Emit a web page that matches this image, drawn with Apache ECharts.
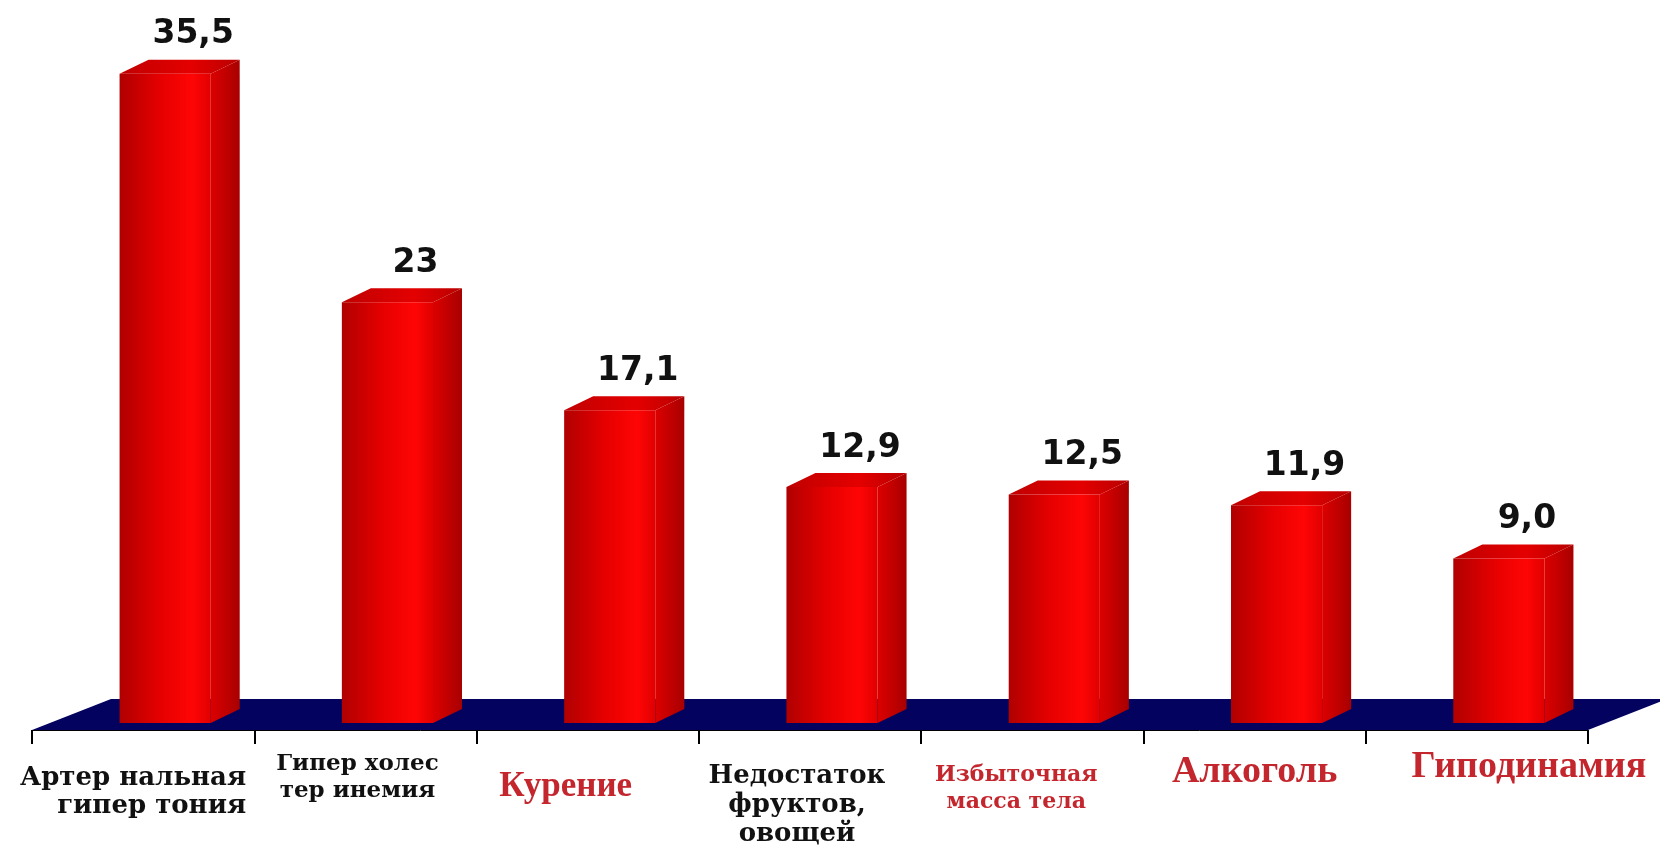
<!DOCTYPE html>
<html>
<head>
<meta charset="utf-8">
<script src="https://cdn.jsdelivr.net/npm/echarts@6/dist/echarts.min.js"></script>
<style>
html,body{margin:0;padding:0;background:#fff;}
#chart{width:1660px;height:851px;}
</style>
</head>
<body>
<div id="chart"></div>
<script>
// ---- data ----
var categories = [
  'Артер нальная\nгипер тония',
  'Гипер холес\nтер инемия',
  'Курение',
  'Недостаток\nфруктов,\nовощей',
  'Избыточная\nмасса тела',
  'Алкоголь',
  'Гиподинамия'
];
var values = [35.5, 23, 17.1, 12.9, 12.5, 11.9, 9.0];
var valueLabels = ['35,5', '23', '17,1', '12,9', '12,5', '11,9', '9,0'];

// ---- label styling (not data) ----
var RED = '#c4262e';
var labelStyle = [
  {font: 'DejaVu Serif', size: 26, lh: 28, color: '#111', dx: 103, top: 764, align: 'right'},
  {font: 'DejaVu Serif', size: 23, lh: 27, color: '#111', dx: -8, top: 751, align: 'center'},
  {font: 'Liberation Serif', size: 35, lh: 38, color: RED, dx: -22, top: 768, align: 'center'},
  {font: 'DejaVu Serif', size: 26, lh: 29, color: '#111', dx: -13, top: 762, align: 'center'},
  {font: 'DejaVu Serif', size: 22, lh: 27, color: RED, dx: -16, top: 762, align: 'center'},
  {font: 'Liberation Serif', size: 38, lh: 40, color: RED, dx: 0, top: 752, align: 'center'},
  {font: 'Liberation Serif', size: 38, lh: 40, color: RED, dx: 52, top: 747, align: 'center'}
];

var chart = echarts.init(document.getElementById('chart'), null, {renderer: 'canvas'});

var DEPTH = [29, -14];      // bar depth vector
var FLOOR = [79, -31];      // floor depth vector
var BAR_OFF = [22, -7];     // bar placement inside the floor

var option = {
  backgroundColor: '#ffffff',
  animation: false,
  grid: {left: 32, right: 72, top: 35, bottom: 121, containLabel: false},
  xAxis: {
    type: 'category',
    data: categories,
    boundaryGap: true,
    axisLine: {show: true, lineStyle: {color: '#000', width: 1}},
    axisTick: {show: true, length: 14, lineStyle: {color: '#000', width: 2}},
    axisLabel: {show: false},
    splitLine: {show: false}
  },
  yAxis: {type: 'value', min: 0, max: 38, show: false},
  series: [
    {
      type: 'custom',
      name: 'floor',
      silent: true,
      z: 1,
      data: [[0, 0]],
      encode: {x: 0, y: 1},
      renderItem: function (params, api) {
        var cs = params.coordSys;
        var y0 = api.coord([0, 0])[1];
        var x0 = cs.x, x1 = cs.x + cs.width;
        return {
          type: 'polygon',
          shape: {points: [[x0, y0], [x0 + FLOOR[0], y0 + FLOOR[1]], [x1 + FLOOR[0], y0 + FLOOR[1]], [x1, y0]]},
          style: {fill: '#03035f'}
        };
      }
    },
    {
      type: 'custom',
      name: 'bars',
      z: 2,
      data: values.map(function (v, i) { return [i, v]; }),
      encode: {x: 0, y: 1},
      renderItem: function (params, api) {
        var i = params.dataIndex;
        var v = api.value(1);
        var base = api.coord([api.value(0), 0]);
        var topP = api.coord([api.value(0), v]);
        var bw = api.size([1, 0])[0] * 0.41;
        var xl = base[0] - bw / 2 + BAR_OFF[0];
        var xr = base[0] + bw / 2 + BAR_OFF[0];
        var yb = base[1] + BAR_OFF[1];
        var yt = topP[1] + BAR_OFF[1];
        var dx = DEPTH[0], dy = DEPTH[1];
        return {
          type: 'group',
          children: [
            {
              type: 'polygon',
              shape: {points: [[xr, yt], [xr + dx, yt + dy], [xr + dx, yb + dy], [xr, yb]]},
              style: {fill: new echarts.graphic.LinearGradient(0, 0, 1, 0, [
                {offset: 0, color: '#dc0000'}, {offset: 1, color: '#a80000'}])}
            },
            {
              type: 'polygon',
              shape: {points: [[xl, yt], [xl + dx, yt + dy], [xr + dx, yt + dy], [xr, yt]]},
              style: {fill: new echarts.graphic.LinearGradient(0, 0, 1, 0, [
                {offset: 0, color: '#c00000'}, {offset: 0.6, color: '#e40000'}, {offset: 1, color: '#b80000'}])}
            },
            {
              type: 'rect',
              shape: {x: xl, y: yt, width: xr - xl, height: yb - yt},
              style: {fill: new echarts.graphic.LinearGradient(0, 0, 1, 0, [
                {offset: 0, color: '#b00000'}, {offset: 0.45, color: '#e60000'},
                {offset: 0.8, color: '#ff0505'}, {offset: 1, color: '#e00000'}])}
            },
            {
              type: 'text',
              style: {
                text: valueLabels[i],
                x: (xl + xr) / 2 + 28,
                y: yt - 39,
                align: 'center',
                verticalAlign: 'middle',
                fontFamily: 'DejaVu Sans',
                fontWeight: 'bold',
                fontSize: 33,
                fill: '#111'
              }
            }
          ]
        };
      }
    },
    {
      type: 'custom',
      name: 'catLabels',
      silent: true,
      z: 3,
      data: categories.map(function (c, i) { return [i, 0]; }),
      encode: {x: 0, y: 1},
      renderItem: function (params, api) {
        var i = params.dataIndex;
        var st = labelStyle[i];
        var p = api.coord([api.value(0), 0]);
        return {
          type: 'text',
          style: {
            text: categories[i],
            x: p[0] + st.dx,
            y: st.top,
            align: st.align,
            verticalAlign: 'top',
            fontFamily: st.font,
            fontWeight: 'bold',
            fontSize: st.size,
            lineHeight: st.lh,
            fill: st.color
          }
        };
      }
    }
  ]
};
chart.setOption(option);
</script>
</body>
</html>
